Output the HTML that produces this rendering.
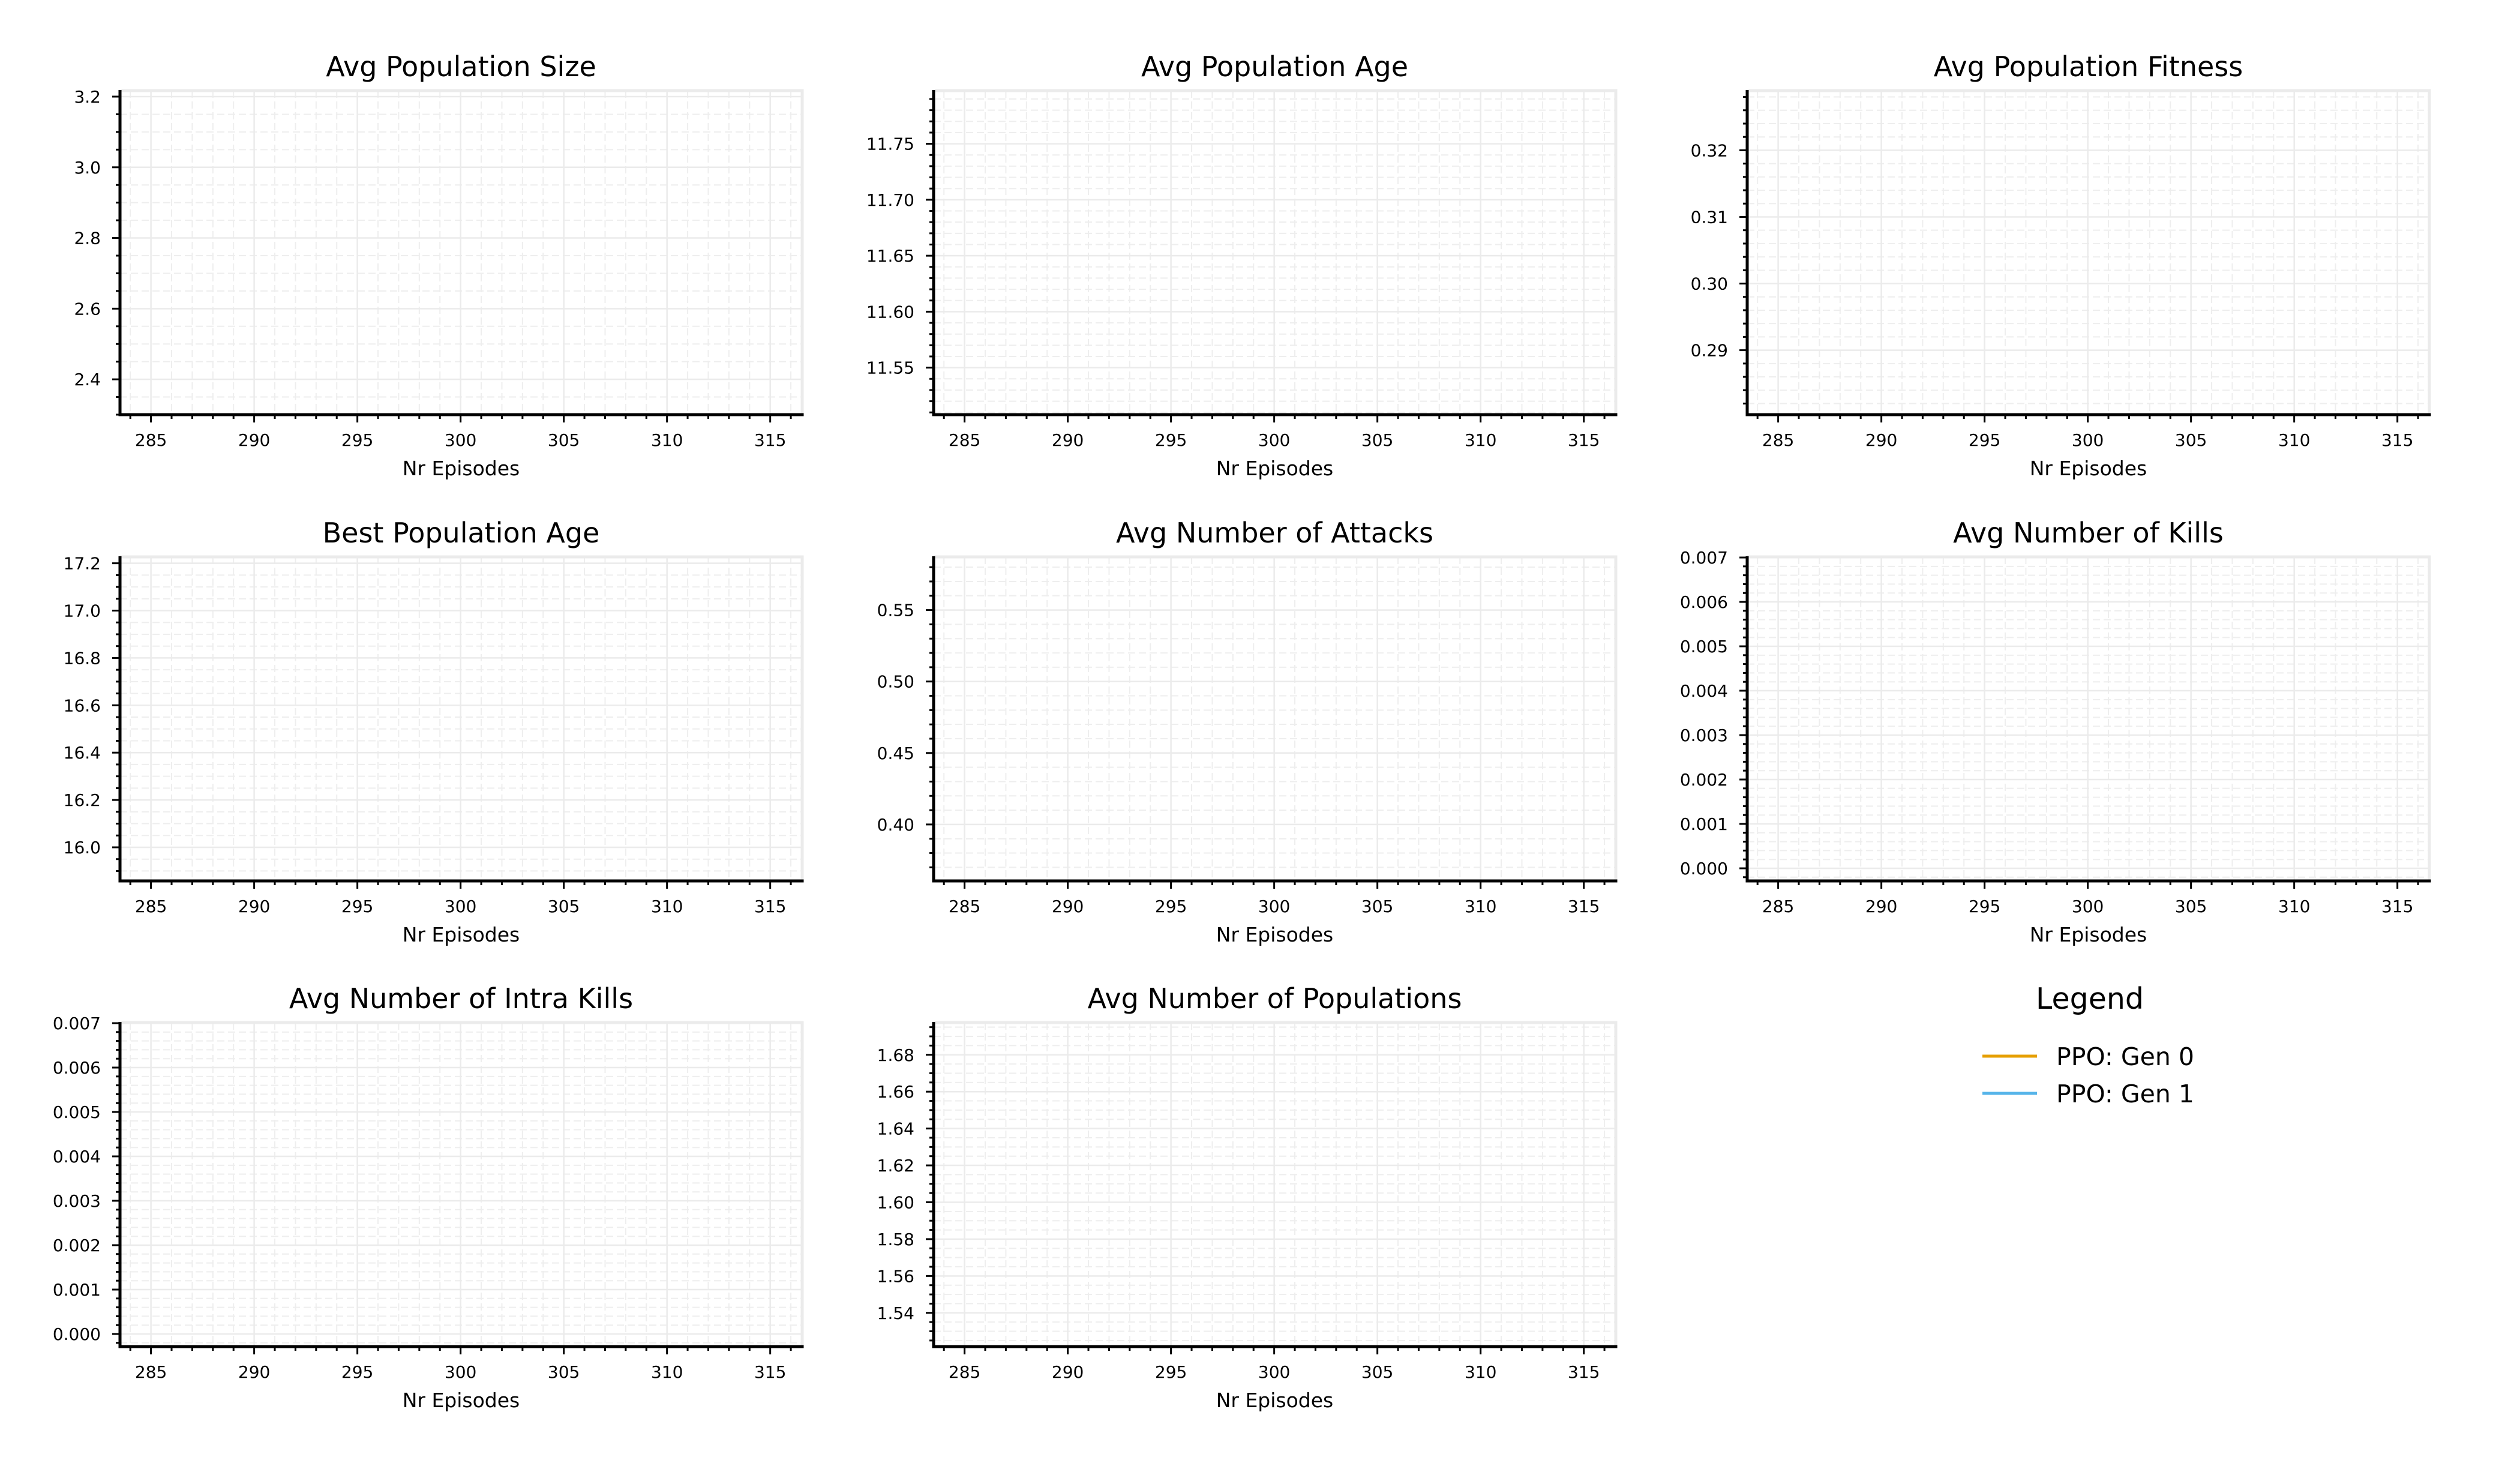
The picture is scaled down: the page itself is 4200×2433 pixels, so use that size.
<!DOCTYPE html>
<html><head><meta charset="utf-8">
<style>
html,body{margin:0;padding:0;background:#fff;}
svg{display:block;font-family:"DejaVu Sans","Liberation Sans",sans-serif;}
</style></head>
<body>
<svg id="fig" width="4200" height="2433" viewBox="0 0 4200 2433" xmlns="http://www.w3.org/2000/svg">
<rect x="0" y="0" width="4200" height="2433" fill="#fff"/>
<g id="legend">
  <text x="3483" y="1681" font-size="49" text-anchor="middle">Legend</text>
  <g>
    <line x1="3304" y1="1760" x2="3395" y2="1760" stroke="#E69F00" stroke-width="5"/>
    <text x="3427" y="1775" font-size="41">PPO: Gen 0</text>
  </g>
  <g>
    <line x1="3304" y1="1822" x2="3395" y2="1822" stroke="#56B4E9" stroke-width="5"/>
    <text x="3427" y="1837" font-size="41">PPO: Gen 1</text>
  </g>
</g>
</svg>
<script>
// chart data
const panelTitles = ["Avg Population Size","Avg Population Age","Avg Population Fitness","Best Population Age","Avg Number of Attacks","Avg Number of Kills","Avg Number of Intra Kills","Avg Number of Populations"];
const xTicks = [285,290,295,300,305,310,315];
const xDomain = [283.5,316.55];
const yDomains = [[2.3,3.217],[11.508,11.7975],[0.28033,0.32895],[15.858,17.227],[0.3605,0.5872],[-0.000284,0.007014],[-0.000284,0.007014],[1.5217,1.6975]];
const yTickStart = [2.4,11.55,0.29,16.0,0.40,0.0,0.0,1.54];
const yTickStep = [0.2,0.05,0.01,0.2,0.05,0.001,0.001,0.02];
const yTickDecimals = [1,2,2,1,2,3,3,2];
const yMinorDiv = [4,5,5,4,5,5,5,4];
const episodes = [];
const gen0Values = [];
const gen1Values = [];

const NS="http://www.w3.org/2000/svg";
const svg=document.getElementById('fig');
function mk(tag,attrs,parent){const e=document.createElementNS(NS,tag);for(const k in attrs)e.setAttribute(k,attrs[k]);(parent||svg).appendChild(e);return e;}
const colLeft=[200,1556,2912], rowTop=[151,928,1704], W=1137, H=540;
panelTitles.forEach((title,i)=>{
  const L=colLeft[i%3], T=rowTop[Math.floor(i/3)], R=L+W, B=T+H;
  const xs=v=>L+(v-xDomain[0])/(xDomain[1]-xDomain[0])*W;
  const yd=yDomains[i];
  const ys=v=>B-(v-yd[0])/(yd[1]-yd[0])*H;
  const g=mk('g',{});
  
  
  for(let v=Math.ceil(xDomain[0]);v<=xDomain[1];v++){
    const x=xs(v);
    if(v%5!==0){const ln=mk('line',{x1:x,y1:T,x2:x,y2:B,stroke:'#eeeeee','stroke-width':2,'stroke-dasharray':'12,6'},g);}
    const tk=mk('line',{x1:x,y1:B,x2:x,y2:B+(v%5===0?13:7),stroke:'#000','stroke-width':3},g);
    
  }
  const step=yTickStep[i], minor=step/yMinorDiv[i];
  const k0=Math.ceil((yd[0]-yTickStart[i])/minor-1e-6), k1=Math.floor((yd[1]-yTickStart[i])/minor+1e-6);
  for(let k=k0;k<=k1;k++){
    const v=yTickStart[i]+k*minor, y=ys(v);
    const isMajor=((k%yMinorDiv[i])+yMinorDiv[i])%yMinorDiv[i]===0;
    if(isMajor){
      const gl=mk('line',{x1:L,y1:y,x2:R,y2:y,stroke:'#ebebeb','stroke-width':2.5},g);
      
      const t=mk('text',{x:L-32,y:y+10,'font-size':28,'text-anchor':'end'},g);
      t.textContent=v.toFixed(yTickDecimals[i]);
      
    } else {
      const gl=mk('line',{x1:L,y1:y,x2:R,y2:y,stroke:'#eeeeee','stroke-width':2,'stroke-dasharray':'12,6'},g);
      
    }
    const tk=mk('line',{x1:L-(isMajor?13:7),y1:y,x2:L,y2:y,stroke:'#000','stroke-width':3},g);
    
  }
  xTicks.forEach(v=>{
    const x=xs(v);
    const gl=mk('line',{x1:x,y1:T,x2:x,y2:B,stroke:'#ebebeb','stroke-width':2.5},g);
    
    const t=mk('text',{x:x,y:B+52,'font-size':28,'text-anchor':'middle'},g);
    t.textContent=String(v);
    
  });
  [[gen0Values,'#E69F00'],[gen1Values,'#56B4E9']].forEach(([vals,c])=>{
    if(!vals.length)return;
    const pts=vals.map((v,j)=>xs(episodes[j])+','+ys(v)).join(' ');
    const pl=mk('polyline',{points:pts,fill:'none',stroke:c,'stroke-width':5},g);
    
  });
  const st=mk('line',{x1:L,y1:T,x2:R+2.5,y2:T,stroke:'#ebebeb','stroke-width':5},g);
  
  const sr=mk('line',{x1:R,y1:T,x2:R,y2:B,stroke:'#ebebeb','stroke-width':5},g);
  
  const sl=mk('line',{x1:L,y1:T-1,x2:L,y2:B+2.5,stroke:'#000','stroke-width':5},g);
  
  const sb=mk('line',{x1:L-2.5,y1:B,x2:R+2.5,y2:B,stroke:'#000','stroke-width':5},g);
  
  const tt=mk('text',{x:L+W/2,y:T-24,'font-size':46,'text-anchor':'middle'},g);
  tt.textContent=title;
  
  const xl=mk('text',{x:L+W/2,y:B+101,'font-size':33,'text-anchor':'middle'},g);
  xl.textContent='Nr Episodes';
  
});
</script>
</body></html>
